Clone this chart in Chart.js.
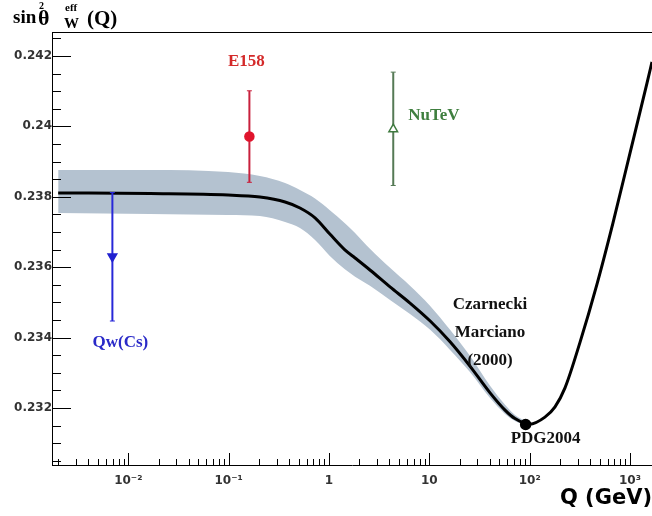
<!DOCTYPE html>
<html><head><meta charset="utf-8">
<script src="https://cdn.jsdelivr.net/npm/chart.js@4.4.1/dist/chart.umd.min.js"></script>
<style>html,body{margin:0;padding:0;background:#fff;overflow:hidden}</style>
</head><body>
<canvas id="c" width="652" height="516"></canvas>
<script>
// ---- Data ----
// Theory curve: running sin^2 theta_W^eff(Q) (Czarnecki-Marciano 2000)
const curveQ   = [0.002,0.0165,0.0987,0.205,0.365,0.514,0.726,1.02,1.44,1.82,2.56,4.06,6.42,10.2,16.1,25.4,40.3,56.8,71.4,100,142,179,225,318,469,677,1000,1477,1657];
const curveVal = [0.23811,0.23809,0.23805,0.23799,0.23785,0.23768,0.23740,0.23694,0.23649,0.23626,0.23592,0.23544,0.23498,0.23447,0.23388,0.23319,0.23243,0.23194,0.23170,0.23154,0.23174,0.23203,0.23257,0.23387,0.23552,0.23726,0.23924,0.24123,0.24183];
// Theory uncertainty band
const bandQ  = [0.002,0.0165,0.0987,0.205,0.365,0.514,0.726,1.02,1.44,1.82,2.56,4.06,6.42,10.2,16.1,25.4,40.3,56.8,71.4,89.9];
const bandHi = [0.23876,0.23876,0.23870,0.23859,0.23839,0.23819,0.23795,0.23762,0.23725,0.23697,0.23652,0.23598,0.23547,0.23490,0.23422,0.23348,0.23263,0.23209,0.23180,0.23163];
const bandLo = [0.23754,0.23751,0.23748,0.23745,0.23728,0.23711,0.23677,0.23632,0.23594,0.23573,0.23547,0.23507,0.23467,0.23422,0.23365,0.23302,0.23228,0.23183,0.23163,0.23152];
// Measurements
const pointNames = ['Qw(Cs)','E158','NuTeV','PDG2004'];
const pointQ     = [0.00694, 0.161, 4.37, 91.19];
const pointVal   = [0.23630, 0.23971, 0.23992, 0.23153];
const errLow     = [0.23447, 0.23841, 0.23832, null];
const errHigh    = [0.23812, 0.24101, 0.24154, null];
// Axis ranges and tick labels
const xMin = 0.001736, xMax = 1657;
const yMin = 0.23038, yMax = 0.24268;
const xTickLabels = {'-2':'10\u207B\u00B2','-1':'10\u207B\u00B9','0':'1','1':'10','2':'10\u00B2','3':'10\u00B3'};
const theoryLabel = ['Czarnecki','Marciano','(2000)'];
const theoryLabelAt = {q: 40.3, v: 0.23493};

// ---- Styles ----
const pStyle = [
  {color:'#2020d0', line:'#2828d8', label:'#2a2ac8', style:'triangle', rot:180, r:5, fill:'#2020d0', anchor:'lo', dx:8,  dy:22,  align:'center'},
  {color:'#e0142c', line:'#c8203c', label:'#d42a2a', style:'circle',   rot:0,   r:4.5, fill:'#e0142c', anchor:'hi', dx:-3, dy:-29, align:'center'},
  {color:'#3f7a3f', line:'#557a55', label:'#3f7f3f', style:'triangle', rot:0,   r:5, fill:'#ffffff', anchor:'pt', dx:15, dy:-14, align:'left'},
  {color:'#000000', line:'#000',    label:'#111111', style:'circle',   rot:0,   r:5, fill:'#000000', anchor:'pt', dx:20, dy:14,  align:'center'}
];

const datasets = [];
pointQ.forEach((q,i)=>{
  const s = pStyle[i];
  datasets.push({data:[{x:q,y:pointVal[i]}], order:0, showLine:false,
    pointStyle:s.style, rotation:s.rot, pointRadius:s.r, backgroundColor:s.fill,
    borderColor:s.color, pointBorderWidth:1.5});
});
pointQ.forEach((q,i)=>{
  if (errLow[i]===null) return;
  const s = pStyle[i];
  datasets.push({data:[{x:q,y:errLow[i]},{x:q,y:errHigh[i]}], order:1, showLine:true,
    borderColor:s.line, borderWidth:2, pointStyle:'line', pointRadius:2.5,
    pointBorderColor:s.line, pointBorderWidth:1, fill:false});
});
datasets.push({data:curveQ.map((q,i)=>({x:q,y:curveVal[i]})), order:2, showLine:true,
  borderColor:'#000', borderWidth:3, pointRadius:0, cubicInterpolationMode:'monotone', fill:false});
datasets.push({data:bandQ.map((q,i)=>({x:q,y:bandHi[i]})), order:3, showLine:true,
  borderWidth:0, borderColor:'rgba(0,0,0,0)', pointRadius:0, cubicInterpolationMode:'monotone',
  fill:'+1', backgroundColor:'rgb(180,194,208)'});
datasets.push({data:bandQ.map((q,i)=>({x:q,y:bandLo[i]})), order:4, showLine:true,
  borderWidth:0, borderColor:'rgba(0,0,0,0)', pointRadius:0, cubicInterpolationMode:'monotone', fill:false});

const tickFont = {family:'"DejaVu Sans"', size:12, weight:'bold'};

const decor = {
  id:'decor',
  afterDatasetsDraw(chart){
    const {ctx, chartArea:a, scales:{x,y}} = chart;
    ctx.save();
    ctx.strokeStyle = '#000'; ctx.lineWidth = 1;
    ctx.beginPath(); ctx.moveTo(a.left, a.top+0.5); ctx.lineTo(a.right, a.top+0.5); ctx.stroke();
    ctx.beginPath();
    for (let k = Math.ceil(y.min/0.0005); k*0.0005 <= y.max; k++){
      const v = k*0.0005;
      const major = (k % 4) === 0;
      const py = Math.round(y.getPixelForValue(v)) + 0.5;
      ctx.moveTo(a.left, py); ctx.lineTo(a.left + (major?19:9), py);
    }
    for (let n = -3; n <= 3; n++){
      for (let m = 1; m <= 9; m++){
        const v = m*Math.pow(10,n);
        if (v < x.min || v > x.max) continue;
        const px = Math.round(x.getPixelForValue(v)) + 0.5;
        ctx.moveTo(px, a.bottom); ctx.lineTo(px, a.bottom - (m===1?12:6));
      }
    }
    ctx.stroke();

    ctx.font = 'bold 17px "Liberation Serif"';
    ctx.textBaseline = 'middle';
    pointQ.forEach((q,i)=>{
      const s = pStyle[i];
      const px = x.getPixelForValue(q);
      const val = s.anchor==='lo' ? errLow[i] : s.anchor==='hi' ? errHigh[i] : pointVal[i];
      const py = y.getPixelForValue(val);
      ctx.fillStyle = s.label; ctx.textAlign = s.align;
      ctx.fillText(pointNames[i], px + s.dx, py + s.dy);
    });
    ctx.fillStyle = '#111'; ctx.textAlign = 'center';
    const tx = x.getPixelForValue(theoryLabelAt.q), ty = y.getPixelForValue(theoryLabelAt.v);
    theoryLabel.forEach((t,i)=> ctx.fillText(t, tx, ty + i*28));

    // y-axis title: sin^2 theta_W^eff (Q)
    ctx.fillStyle = '#000'; ctx.textAlign = 'left'; ctx.textBaseline = 'alphabetic';
    ctx.font = 'bold 19px "Liberation Serif"';
    ctx.fillText('sin', 13, 23);
    ctx.font = 'bold 22px "Liberation Serif"';
    ctx.fillText('\u03B8', 38, 25);
    ctx.font = 'bold 10px "Liberation Serif"';
    ctx.fillText('2', 39, 9);
    ctx.font = 'bold 11px "Liberation Serif"';
    ctx.fillText('eff', 65, 11);
    ctx.font = 'bold 15px "Liberation Serif"';
    ctx.fillText('W', 64, 28);
    ctx.font = 'bold 21px "Liberation Serif"';
    ctx.fillText('(Q)', 87, 25);
    ctx.restore();
  }
};

new Chart(document.getElementById('c'), {
  type:'scatter',
  data:{datasets},
  options:{
    responsive:false, animation:false, devicePixelRatio:1,
    layout:{autoPadding:false, padding:{top:32,left:0,right:0,bottom:0}},
    plugins:{legend:{display:false}, tooltip:{enabled:false}},
    elements:{line:{tension:0.4}},
    scales:{
      x:{type:'logarithmic', min:xMin, max:xMax,
         afterFit(s){ s.height = 51; s.paddingLeft = 0; s.paddingRight = 0; },
         grid:{display:false, drawTicks:false},
         border:{display:true, color:'#000', width:1},
         ticks:{autoSkip:false, maxRotation:0, minRotation:0, padding:9, font:tickFont, color:'#333',
           callback(v){ const l = Math.log10(v); const r = Math.round(l);
             return Math.abs(l - r) < 1e-9 && xTickLabels[String(r)] !== undefined ? xTickLabels[String(r)] : ''; }},
         title:{display:true, text:'Q (GeV)', align:'end', color:'#000',
           font:{family:'"DejaVu Sans"', size:21, weight:'bold'}, padding:{top:0,bottom:5}}
      },
      y:{type:'linear', min:yMin, max:yMax,
         afterFit(s){ s.width = 52; s.paddingTop = 0; s.paddingBottom = 0; },
         grid:{display:false, drawTicks:false},
         border:{display:true, color:'#000', width:1},
         ticks:{stepSize:0.002, includeBounds:false, padding:0, font:tickFont, color:'#333',
           callback(v){ return String(+v.toFixed(3)); }}
      }
    }
  },
  plugins:[decor]
});
</script>
</body></html>
